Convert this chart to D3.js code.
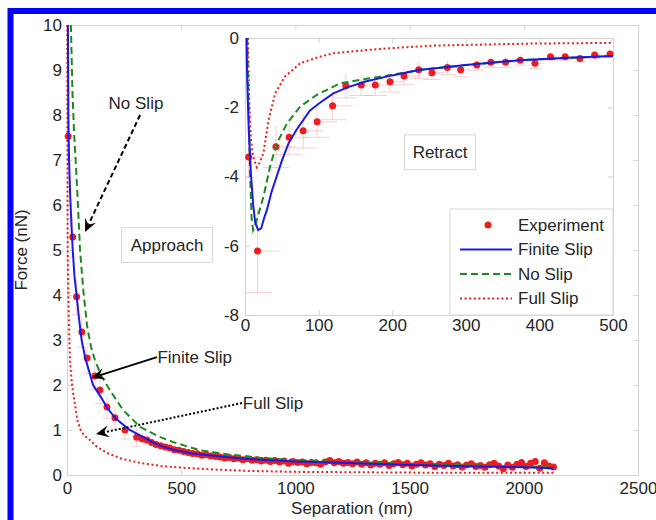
<!DOCTYPE html>
<html><head><meta charset="utf-8">
<script src="https://cdn.jsdelivr.net/npm/d3@7"></script>
<style>body{margin:0;background:#fff}svg{display:block}text{font-family:"Liberation Sans",Arial,sans-serif}</style>
</head><body><svg id="c" width="656" height="520"></svg>
<script>
// ---------- DATA ----------
// Main (approach) panel
const mainXTicks = [0,500,1000,1500,2000,2500];
const mainYTicks = [0,1,2,3,4,5,6,7,8,9,10];
const expApproachX = [5,25,42,65,88,122,144,175,210,254,305,330,350,370,390,410,430,450,470,490,510,530,550,570,590,610,630,650,670,690,710,730,750,770,790,810,830,850,870,890,910,930,950,970,990,1010,1030,1050,1070,1090,1110,1130,1150,1170,1190,1210,1230,1250,1270,1290,1310,1330,1350,1370,1390,1410,1430,1450,1470,1490,1510,1530,1550,1570,1590,1610,1630,1650,1670,1690,1710,1730,1750,1770,1790,1810,1830,1850,1870,1890,1910,1930,1950,1970,1990,2010,2030,2050,2070,2090,2110,2130];
const expApproachY = [7.53,5.29,3.96,3.18,2.6,2.2,1.89,1.51,1.27,1.0,0.84,0.8,0.78,0.72,0.68,0.65,0.62,0.6,0.56,0.55,0.52,0.5,0.48,0.47,0.44,0.45,0.42,0.41,0.4,0.38,0.39,0.36,0.37,0.34,0.36,0.33,0.34,0.31,0.33,0.3,0.32,0.29,0.31,0.26,0.3,0.28,0.29,0.25,0.28,0.27,0.24,0.29,0.32,0.27,0.3,0.26,0.28,0.25,0.29,0.24,0.27,0.22,0.26,0.24,0.27,0.21,0.25,0.28,0.23,0.26,0.2,0.24,0.27,0.22,0.25,0.19,0.24,0.21,0.26,0.2,0.23,0.18,0.22,0.25,0.19,0.21,0.17,0.23,0.26,0.2,0.14,0.22,0.17,0.24,0.28,0.19,0.26,0.3,0.15,0.27,0.2,0.18];
const expApproachErrY = [0.5,0.45,0.4,0.35,0.35,0.3,0.3,0.25,0.25,0.2,0.2];
const finiteApproachX = [4,6,9,14,20,25,33,42,52,64,80,100,114,150,175,210,250,275,320,370,420,465,550,650,750,850,1000,1200,1400,1600,1800,2000,2130];
const finiteApproachY = [10,8,7,6.2,5.5,5.0,4.4,4.0,3.5,3.0,2.6,2.25,2.0,1.72,1.5,1.27,1.1,1.0,0.88,0.74,0.63,0.56,0.48,0.42,0.37,0.34,0.3,0.27,0.24,0.21,0.19,0.17,0.15];
const noSlipApproachX = [17,24,31,40,47,57,72,88,105,122,150,196,246,320,400,465,582,700,850,1000,1200,1400,1600,1800,2000,2130];
const noSlipApproachY = [10,8.5,7.6,6.8,6.1,5.0,4.07,3.31,2.85,2.56,2.2,1.82,1.44,1.07,0.86,0.73,0.55,0.46,0.38,0.33,0.29,0.26,0.23,0.21,0.19,0.17];
const fullApproachX = [1,2,3,6,9,13,20,27,37,45,60,75,100,130,175,240,320,410,510,650,800,1000,1300,1600,2000,2130];
const fullApproachY = [10,7,4.9,4.07,3.3,2.56,2.1,1.82,1.51,1.22,1.0,0.88,0.78,0.63,0.49,0.36,0.27,0.2,0.16,0.12,0.09,0.07,0.06,0.05,0.05,0.05];

// Inset (retract) panel
const insetXTicks = [0,100,200,300,400,500];
const insetYTicks = [-8,-6,-4,-2,0];
const expRetractX = [5,17,42,60,79,98,119,137,158,177,197,216,236,254,275,293,315,334,354,374,394,415,435,455,475,496];
const expRetractY = [-3.44,-6.15,-3.14,-2.87,-2.68,-2.42,-1.96,-1.38,-1.36,-1.36,-1.26,-1.1,-0.92,-1.0,-0.85,-0.92,-0.78,-0.7,-0.7,-0.64,-0.73,-0.54,-0.54,-0.59,-0.49,-0.46];
const expRetractErrY = [0.6,1.2,0.6,0.5,0.5,0.45,0.4,0.35,0.3,0.3,0.3,0.25,0.25,0.2,0.2,0.2,0.15,0.15,0.15,0.15,0.15,0.1,0.1,0.1,0.1,0.1];
const expRetractErrX = [12,20,18,18,18,18,18,16,16,16,14,14,12,12,12,10,10,10,10,8,8,8,8,8,8,8];
const finiteRetractX = [2,3,5,8,11,14,18,22,26,30,36,43,50,59,70,88,100,120,140,165,200,238,256,300,374,440,500];
const finiteRetractY = [0,-1.2,-2.6,-3.9,-4.8,-5.35,-5.55,-5.5,-5.2,-4.95,-4.45,-4.0,-3.55,-3.05,-2.65,-2.1,-1.9,-1.6,-1.42,-1.25,-1.08,-0.92,-0.88,-0.78,-0.64,-0.57,-0.52];
const noSlipRetractX = [3,5,7,9,11,14,18,25,34,43,57,75,97,129,165,200,238,300,374,440,500];
const noSlipRetractY = [0,-2,-4,-5.2,-5.55,-5.4,-5.1,-4.59,-3.72,-3.05,-2.47,-1.98,-1.65,-1.31,-1.18,-1.06,-0.92,-0.78,-0.64,-0.57,-0.52];
const fullRetractX = [4,5,6,8,11,16,20,25,32,41,54,75,100,120,165,200,256,300,392,450,500];
const fullRetractY = [0,-1,-2,-2.9,-3.43,-3.73,-3.6,-3.33,-2.37,-1.6,-1.12,-0.73,-0.55,-0.44,-0.35,-0.29,-0.22,-0.2,-0.16,-0.15,-0.14];

const legendLabels = ["Experiment","Finite Slip","No Slip","Full Slip"];

// ---------- DRAW ----------
const FS = "17px";
const svg = d3.select("#c");
const C = {blue:"#1a1ae6", green:"#1e8a1e", red:"#ee1c1c", axis:"#d4d4d4", text:"#262626"};
svg.append("rect").attr("width",656).attr("height",520).attr("fill","#fff");

const xM = d3.scaleLinear([0,2500],[67,638]);
const yM = d3.scaleLinear([0,10],[475,25]);
const xI = d3.scaleLinear([0,500],[245,613]);
const yI = d3.scaleLinear([-8,0],[315,38]);

function zip(xs,ys){return xs.map((x,i)=>[x,ys[i]]);}

function axes(g,x,y,xt,yt,padX,padY){
  const [x0,x1]=x.range(), [y0,y1]=y.range();
  g.append("rect").attr("x",x0).attr("y",y1).attr("width",x1-x0).attr("height",y0-y1).attr("fill","#fff");
  const ax = g.append("g").attr("transform",`translate(0,${y0})`).call(d3.axisBottom(x).tickValues(xt).tickSize(-5).tickPadding(padX).tickFormat(d=>String(d)));
  const ay = g.append("g").attr("transform",`translate(${x0},0)`).call(d3.axisLeft(y).tickValues(yt).tickSize(-5).tickPadding(padY).tickFormat(d=>String(d)));
  const at = g.append("g").attr("transform",`translate(0,${y1})`).call(d3.axisTop(x).tickValues(xt).tickSize(-5).tickFormat(""));
  const ar = g.append("g").attr("transform",`translate(${x1},0)`).call(d3.axisRight(y).tickValues(yt).tickSize(-5).tickFormat(""));
  [ax,ay,at,ar].forEach(a=>{
    a.selectAll("path,line").attr("stroke",C.axis);
    a.selectAll("text").attr("fill",C.text).style("font-size",FS);
  });
}

function drawLine(g,x,y,xs,ys,color,dash,w){
  g.append("path").datum(zip(xs,ys)).attr("fill","none").attr("stroke",color)
   .attr("stroke-width",w).attr("stroke-dasharray",dash||null)
   .attr("d",d3.line().x(d=>x(d[0])).y(d=>y(d[1])));
}

// outer blue frame
svg.append("path").attr("d","M10.5,530 V11 H670").attr("fill","none").attr("stroke","#0000ff").attr("stroke-width",6);

// main panel
const gM = svg.append("g");
axes(gM,xM,yM,mainXTicks,mainYTicks,7,5);
const eb = gM.append("g").attr("stroke","#f5a0a0").attr("stroke-opacity",0.5).attr("stroke-width",1);
expApproachErrY.forEach((e,i)=>{
  const x=expApproachX[i], yv=expApproachY[i];
  eb.append("line").attr("x1",xM(x)).attr("x2",xM(x)).attr("y1",yM(yv-e)).attr("y2",yM(yv+e));
  eb.append("line").attr("x1",xM(Math.max(0,x-20))).attr("x2",xM(x+20)).attr("y1",yM(yv-e)).attr("y2",yM(yv-e));
});
gM.append("g").selectAll("circle").data(zip(expApproachX,expApproachY)).join("circle")
  .attr("cx",d=>xM(d[0])).attr("cy",d=>yM(d[1])).attr("r",3.5).attr("fill",C.red);
drawLine(gM,xM,yM,fullApproachX,fullApproachY,C.red,"2,2.6",2);
drawLine(gM,xM,yM,noSlipApproachX,noSlipApproachY,C.green,"7,4",2);
drawLine(gM,xM,yM,finiteApproachX,finiteApproachY,C.blue,null,2);

// axis titles
svg.append("text").attr("x",352).attr("y",514).attr("text-anchor","middle").attr("fill",C.text).style("font-size",FS).text("Separation (nm)");
svg.append("text").attr("transform","translate(27,250) rotate(-90)").attr("text-anchor","middle").attr("fill",C.text).style("font-size",FS).text("Force (nN)");

// annotations
function arrow(g,x,y,from,to,dash){
  const x1=x(from[0]),y1=y(from[1]),x2=x(to[0]),y2=y(to[1]);
  const a=Math.atan2(y2-y1,x2-x1), L=13, Wd=6, back=8;
  const bx=x2-L*Math.cos(a), by=y2-L*Math.sin(a);
  g.append("line").attr("x1",x1).attr("y1",y1).attr("x2",x2-back*Math.cos(a)).attr("y2",y2-back*Math.sin(a))
    .attr("stroke","#000").attr("stroke-width",2).attr("stroke-dasharray",dash||null);
  const p1=[bx+Wd*Math.sin(a), by-Wd*Math.cos(a)], p2=[bx-Wd*Math.sin(a), by+Wd*Math.cos(a)];
  const mid=[x2-back*Math.cos(a), y2-back*Math.sin(a)];
  g.append("path").attr("d",`M${x2},${y2}L${p1}L${mid}L${p2}Z`).attr("fill","#000");
}
function label(g,x,y,pos,txt,anchor){
  g.append("text").attr("x",x(pos[0])).attr("y",y(pos[1])).attr("dy","0.35em").attr("text-anchor",anchor)
   .attr("fill",C.text).style("font-size",FS).text(txt);
}
arrow(svg,xM,yM,[320,8.0],[79,5.4],"5,3");
label(svg,xM,yM,[302,8.27],"No Slip","middle");
arrow(svg,xM,yM,[394,2.62],[109,2.16],null);
label(svg,xM,yM,[396,2.62],"Finite Slip","start");
arrow(svg,xM,yM,[766,1.6],[127,0.91],"2,2");
label(svg,xM,yM,[770,1.6],"Full Slip","start");
function boxLabel(g,x,y,pos,txt,w){
  const cx=x(pos[0]), cy=y(pos[1]);
  g.append("rect").attr("x",cx-w/2).attr("y",cy-17.5).attr("width",w).attr("height",35).attr("fill","#fff").attr("stroke","#d8d8d8");
  g.append("text").attr("x",cx).attr("y",cy).attr("dy","0.35em").attr("text-anchor","middle").attr("fill",C.text).style("font-size",FS).text(txt);
}
boxLabel(svg,xM,yM,[438,5.11],"Approach",91);

// inset panel
const gI = svg.append("g");
axes(gI,xI,yI,insetXTicks,insetYTicks,4,6);
const ebi = gI.append("g").attr("stroke","#f5a0a0").attr("stroke-opacity",0.5).attr("stroke-width",1);
expRetractX.forEach((x,i)=>{
  const yv=expRetractY[i], e=expRetractErrY[i], ex=expRetractErrX[i];
  ebi.append("line").attr("x1",xI(x)).attr("x2",xI(x)).attr("y1",yI(yv-e)).attr("y2",yI(Math.min(0,yv+e)));
  ebi.append("line").attr("x1",xI(Math.max(0,x-ex))).attr("x2",xI(Math.min(500,x+ex))).attr("y1",yI(yv-e)).attr("y2",yI(yv-e));
  ebi.append("line").attr("x1",xI(x)).attr("x2",xI(Math.min(500,x+ex*1.5))).attr("y1",yI(yv)).attr("y2",yI(yv));
});
gI.append("g").selectAll("circle").data(zip(expRetractX,expRetractY)).join("circle")
  .attr("cx",d=>xI(d[0])).attr("cy",d=>yI(d[1])).attr("r",3.5).attr("fill",C.red);
drawLine(gI,xI,yI,fullRetractX,fullRetractY,C.red,"2,2.6",2);
drawLine(gI,xI,yI,noSlipRetractX,noSlipRetractY,C.green,"7,4",2);
drawLine(gI,xI,yI,finiteRetractX,finiteRetractY,C.blue,null,2);
boxLabel(svg,xI,yI,[265,-3.3],"Retract",71);

// legend
const lg = svg.append("g");
const lx0=450, ly0=209, lw=163, lh=106;
lg.append("rect").attr("x",lx0).attr("y",ly0).attr("width",lw).attr("height",lh).attr("fill","#fff").attr("stroke","#d8d8d8");
const styles=[{t:"dot"},{c:C.blue,d:null},{c:C.green,d:"7,4"},{c:C.red,d:"2,2.6"}];
legendLabels.forEach((t,i)=>{
  const yy = ly0+16+i*24.5;
  const s=styles[i];
  if(s.t==="dot") lg.append("circle").attr("cx",488).attr("cy",yy).attr("r",3.5).attr("fill",C.red);
  else lg.append("line").attr("x1",460).attr("x2",512).attr("y1",yy).attr("y2",yy).attr("stroke",s.c).attr("stroke-width",2).attr("stroke-dasharray",s.d);
  lg.append("text").attr("x",518).attr("y",yy).attr("dy","0.35em").attr("fill",C.text).style("font-size",FS).text(t);
});
</script></body></html>
